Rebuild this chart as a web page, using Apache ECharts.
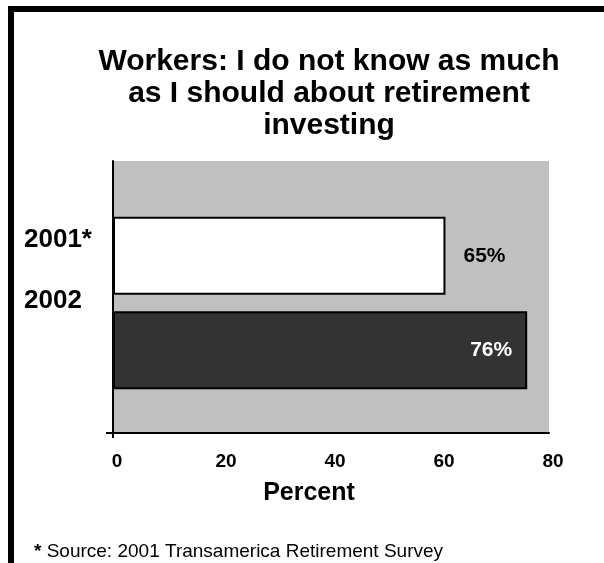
<!DOCTYPE html>
<html>
<head>
<meta charset="utf-8">
<script src="https://cdn.jsdelivr.net/npm/echarts@6/dist/echarts.min.js"></script>
<style>
  html, body { margin: 0; padding: 0; background: #fff; }
  #chart { width: 604px; height: 563px; }
</style>
</head>
<body>
<div id="chart"></div>
<script>
// data
var years = ["2001*", "2002"];
var barLengths = [61, 76]; // where the bars end on the axis
var valueLabels = ["65%", "76%"]; // printed labels
var xTicks = [0, 20, 40, 60, 80];
var titleText = "Workers: I do not know as much\nas I should about retirement\ninvesting";
var footnote = "Source: 2001 Transamerica Retirement Survey";

var font = "Liberation Sans, Arial, sans-serif";
var L = 113, R = 55;

var chart = echarts.init(document.getElementById("chart"));

var option = {
  backgroundColor: "#fff",
  animation: false,
  title: [
    {
      text: titleText,
      left: 324,
      top: 41,
      textAlign: "center",
      textStyle: {
        fontFamily: font,
        fontSize: 30,
        fontWeight: "bold",
        color: "#000",
        lineHeight: 32
      }
    },
    {
      text: "{b|*} " + footnote,
      left: 29,
      top: 537,
      textStyle: {
        fontFamily: font,
        fontSize: 19,
        fontWeight: "normal",
        color: "#000",
        rich: {
          b: { fontFamily: font, fontSize: 19, fontWeight: "bold", color: "#000" }
        }
      }
    }
  ],
  grid: [
    // gray plot area + axes
    { left: L, right: R, top: 161, bottom: 130, show: true, backgroundColor: "#c0c0c0", borderWidth: 0 },
    // bars
    { left: L, right: R, top: 167, bottom: 124 },
    // year labels
    { left: L, right: R, top: 209, bottom: 232 }
  ],
  xAxis: [
    {
      gridIndex: 0,
      type: "value",
      min: xTicks[0],
      max: xTicks[xTicks.length - 1],
      interval: 20,
      splitLine: { show: false },
      axisTick: { show: false },
      axisLine: { show: true, lineStyle: { color: "#000", width: 2 } },
      axisLabel: {
        margin: 19,
        padding: [0, 0, 0, 8],
        fontFamily: font,
        fontSize: 19,
        fontWeight: "bold",
        color: "#000"
      },
      name: "Percent",
      nameLocation: "middle",
      nameGap: 48,
      nameTextStyle: {
        fontFamily: font,
        fontSize: 25,
        fontWeight: "bold",
        color: "#000",
        padding: [0, 44, 0, 0]
      }
    },
    { gridIndex: 1, type: "value", min: 0, max: 80, show: false },
    { gridIndex: 2, type: "value", min: 0, max: 80, show: false }
  ],
  yAxis: [
    {
      gridIndex: 0,
      type: "value",
      min: 0,
      max: 1,
      splitLine: { show: false },
      axisTick: { show: false },
      axisLabel: { show: false },
      axisLine: { show: true, lineStyle: { color: "#000", width: 2 } }
    },
    { gridIndex: 1, type: "category", data: [""], show: false },
    {
      gridIndex: 2,
      type: "category",
      data: years,
      inverse: true,
      axisLine: { show: false },
      axisTick: { show: false },
      axisLabel: {
        align: "left",
        margin: 89,
        fontFamily: font,
        fontSize: 26,
        fontWeight: "bold",
        color: "#000"
      }
    }
  ],
  series: [
    {
      name: years[0],
      type: "bar",
      xAxisIndex: 1,
      yAxisIndex: 1,
      barWidth: 78,
      barGap: "21%",
      data: [barLengths[0]],
      itemStyle: { color: "#fff", borderColor: "#000", borderWidth: 2 },
      label: {
        show: true,
        position: "right",
        distance: 18,
        formatter: function () { return valueLabels[0]; },
        fontFamily: font,
        fontSize: 21,
        fontWeight: "bold",
        color: "#000"
      }
    },
    {
      name: years[1],
      type: "bar",
      xAxisIndex: 1,
      yAxisIndex: 1,
      barWidth: 78,
      barGap: "21%",
      data: [barLengths[1]],
      itemStyle: { color: "#333333", borderColor: "#000", borderWidth: 2 },
      label: {
        show: true,
        position: "insideRight",
        distance: 15,
        formatter: function () { return valueLabels[1]; },
        fontFamily: font,
        fontSize: 21,
        fontWeight: "bold",
        color: "#fff"
      }
    },
    // keeps the year-label axis alive
    { type: "bar", xAxisIndex: 2, yAxisIndex: 2, data: [], silent: true }
  ],
  graphic: [
    {
      type: "rect",
      shape: { x: 11, y: 9, width: 700, height: 700 },
      style: { fill: null, stroke: "#000", lineWidth: 6 },
      silent: true
    },
    {
      type: "line",
      shape: { x1: 106, y1: 433, x2: 113, y2: 433 },
      style: { stroke: "#000", lineWidth: 2 },
      silent: true
    },
    {
      type: "line",
      shape: { x1: 113, y1: 433, x2: 113, y2: 438 },
      style: { stroke: "#000", lineWidth: 2 },
      silent: true
    }
  ]
};

chart.setOption(option);
</script>
</body>
</html>
